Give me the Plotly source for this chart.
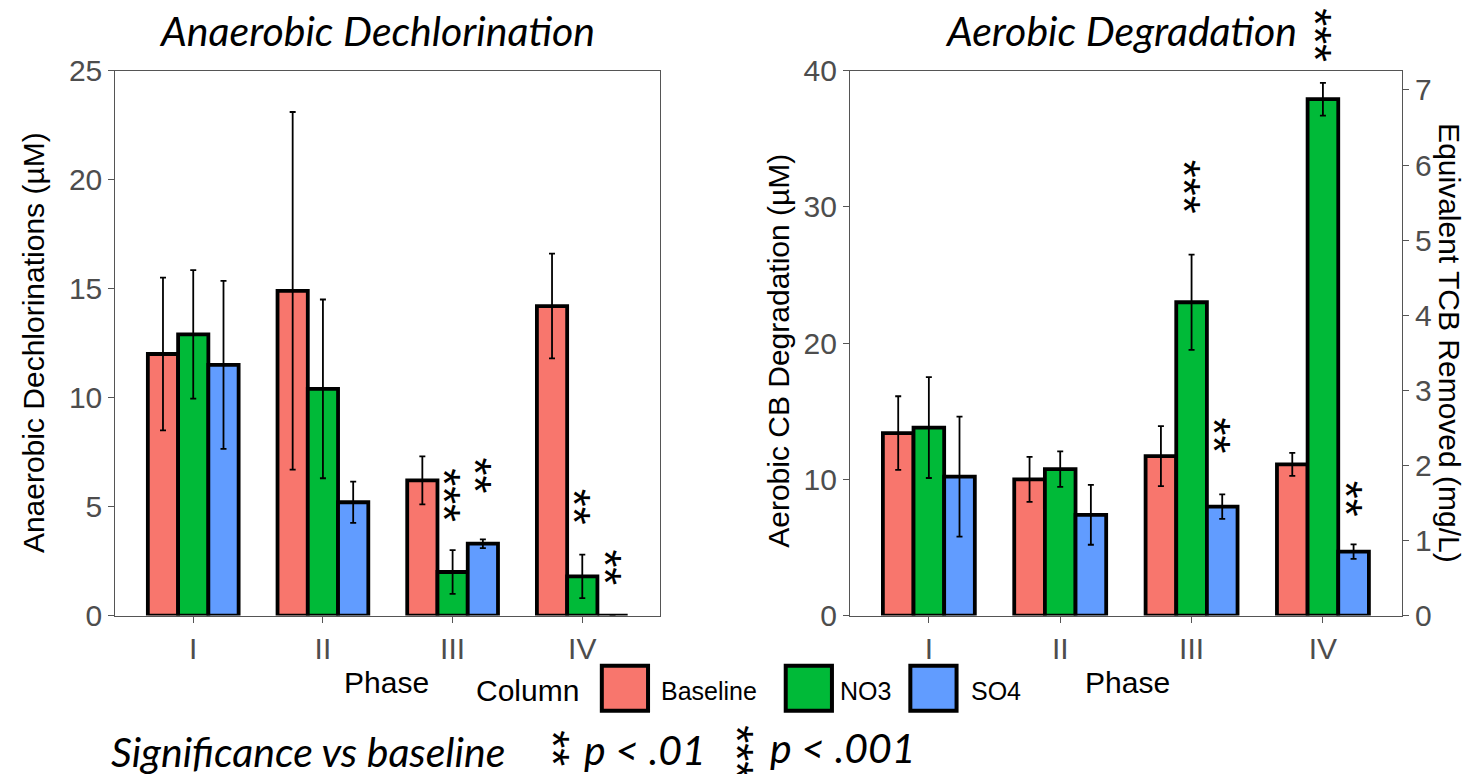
import plotly.graph_objects as go

phases = ["I", "II", "III", "IV"]
columns = ["Baseline", "NO3", "SO4"]
colors = ["#F8766D", "#00BA38", "#619CFF"]

# Anaerobic dechlorination (uM): mean and error
anaer_mean = {
    "Baseline": [12.0, 14.9, 6.2, 14.2],
    "NO3": [12.9, 10.4, 2.0, 1.8],
    "SO4": [11.5, 5.2, 3.3, 0.0],
}
anaer_err = {
    "Baseline": [3.5, 8.2, 1.1, 2.4],
    "NO3": [2.95, 4.1, 1.0, 1.0],
    "SO4": [3.85, 0.95, 0.2, 0.0],
}
# Aerobic CB degradation (uM)
aer_mean = {
    "Baseline": [13.4, 10.0, 11.7, 11.1],
    "NO3": [13.8, 10.75, 23.0, 37.9],
    "SO4": [10.2, 7.4, 8.0, 4.7],
}
aer_err = {
    "Baseline": [2.7, 1.65, 2.2, 0.85],
    "NO3": [3.7, 1.3, 3.5, 1.2],
    "SO4": [4.4, 2.2, 0.9, 0.53],
}
# significance labels: (phase index, column index, label, label y in data units)
anaer_sig = [(2, 1, "***", 5.54), (2, 2, "**", 6.43), (3, 1, "**", 4.98), (3, 2, "**", 2.23)]
aer_sig = [(2, 1, "***", 31.5), (2, 2, "**", 13.2), (3, 1, "***", 42.6), (3, 2, "**", 8.6)]

ANAER_MAX = 25
AER_MAX = 40
TCB_UM_PER_MGL = 1000 / 181.45  # uM per mg/L of TCB

W, H = 1476, 774
# screen-pixel -> paper mapping (measured from the page rendering)
def px(x):
    return (x - 11.1) / 1468.75
def py(y):
    return 1 - (y - 24.5) / 739.6

fig = go.Figure()
xpos = list(range(len(phases)))
for ci, col in enumerate(columns):
    fig.add_trace(go.Bar(
        x=xpos, y=anaer_mean[col], name=col, xaxis="x", yaxis="y",
        marker=dict(color=colors[ci], line=dict(color="black", width=3.8)),
        error_y=dict(type="data", array=anaer_err[col], color="black", thickness=1.8, width=3),
        showlegend=False,
    ))
    fig.add_trace(go.Bar(
        x=xpos, y=aer_mean[col], name=col, xaxis="x2", yaxis="y2",
        marker=dict(color=colors[ci], line=dict(color="black", width=3.8)),
        error_y=dict(type="data", array=aer_err[col], color="black", thickness=1.8, width=3),
        showlegend=False,
    ))
fig.add_trace(go.Scatter(x=[None], y=[None], xaxis="x2", yaxis="y3", showlegend=False))

tickfont = dict(family="Liberation Sans", size=30, color="#4D4D4D")
axcommon = dict(showline=True, linecolor="#555555", linewidth=1.3, mirror=True,
                ticks="outside", ticklen=6, tickcolor="#555555", tickwidth=1.3,
                showgrid=False, zeroline=False, tickfont=tickfont)

xl = [px(118), px(660)]
xr = [px(849), px(1398)]
yd = [py(614), py(70)]

fig.update_layout(
    width=W, height=H,
    margin=dict(l=0, r=0, t=0, b=0),
    plot_bgcolor="white", paper_bgcolor="white",
    barmode="group", bargap=0.3, bargroupgap=0,
    xaxis=dict(domain=xl, range=[-0.6, 3.6], tickvals=xpos, ticktext=phases, anchor="y", **axcommon),
    yaxis=dict(domain=yd, range=[0, ANAER_MAX], dtick=5, anchor="x", **axcommon),
    xaxis2=dict(domain=xr, range=[-0.6, 3.6], tickvals=xpos, ticktext=phases, anchor="y2", **axcommon),
    yaxis2=dict(domain=yd, range=[0, AER_MAX], dtick=10, anchor="x2", **axcommon),
    yaxis3=dict(range=[0, AER_MAX / TCB_UM_PER_MGL], dtick=1, overlaying="y2", side="right", anchor="x2",
                showline=True, linecolor="#555555", linewidth=1.3, ticks="outside", ticklen=6,
                tickcolor="#555555", tickwidth=1.3, showgrid=False, zeroline=False, tickfont=tickfont),
)

starfont = dict(family="Liberation Sans", size=46, color="black")
ann = []
barw = 0.7 / 3
for sigs, xr_, yr_, ymax in [(anaer_sig, "x", "y domain", ANAER_MAX), (aer_sig, "x2", "y2 domain", AER_MAX)]:
    for pi, ci, lab, yv in sigs:
        ann.append(dict(x=pi + (ci - 1) * barw, y=yv / ymax, xref=xr_, yref=yr_, text=lab, showarrow=False,
                        textangle=90, xshift=-8, xanchor="center", yanchor="middle", font=starfont))

def pann(x, y, text, font, angle=0, **kw):
    d = dict(x=px(x), y=py(y), xref="paper", yref="paper", text=text, showarrow=False,
             xanchor="center", yanchor="middle", textangle=angle, font=font)
    d.update(kw)
    return d

titlefont = dict(family="Lato", size=41, color="black", style="italic")
labfont = dict(family="Liberation Sans", size=30, color="black")
ann += [
    pann(378, 30, "<i>Anaerobic Dechlorination</i>", titlefont),
    pann(1119, 30, "<i>Aerobic Degradation</i>", titlefont),
    pann(36, 342, "Anaerobic Dechlorinations (\u00b5M)", labfont, -90),
    pann(777, 350, "Aerobic CB Degradation (\u00b5M)", labfont, -90),
    pann(1446, 342, "Equivalent TCB Removed (mg/L)", labfont, 90),
    pann(388, 681, "Phase", labfont),
    pann(1125, 681, "Phase", labfont),
    pann(528, 689, "Column", labfont),
]
# legend keys
legfont = dict(family="Liberation Sans", size=25, color="black")
key_x = [602, 785, 909]
lab_x = [709, 864, 994]
shapes = []
for ci, col in enumerate(columns):
    shapes.append(dict(type="rect", xref="paper", yref="paper",
                       x0=px(key_x[ci]), x1=px(key_x[ci] + 46), y0=py(709), y1=py(664),
                       fillcolor=colors[ci], line=dict(color="black", width=4)))
    ann.append(pann(lab_x[ci], 689, col, legfont))

botfont = dict(family="Lato", size=41, color="black", style="italic")
ann += [
    pann(310, 750, "<i>Significance vs baseline</i>", botfont),
    pann(562, 746, "**", starfont, 90, xshift=-8),
    pann(645, 748, "<i>p < .01</i>", botfont),
    pann(745, 750, "***", starfont, 90, xshift=-8),
    pann(842, 746, "<i>p < .001</i>", botfont),
]
fig.update_layout(annotations=ann, shapes=shapes)
fig.write_html("out.html")
